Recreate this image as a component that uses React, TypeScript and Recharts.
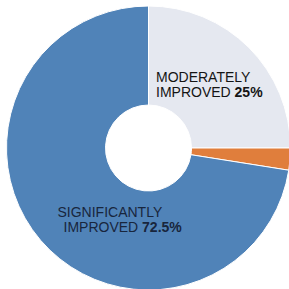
import { PieChart, Pie, Cell } from "recharts";

const categories = ["MODERATELY IMPROVED", "OTHER", "SIGNIFICANTLY IMPROVED"];
const shares = [25, 2.5, 72.5];
const sliceColors = ["#e5e8f0", "#e07e3c", "#5083b8"];
const labelLines = [["MODERATELY", "IMPROVED"], [], ["SIGNIFICANTLY", "IMPROVED"]];
const labelValues = ["25%", "", "72.5%"];

const data = categories.map((name, i) => ({ name, value: shares[i] }));

// offsets from the pie centre for each label (line 1 x, line 2 x, first baseline)
const labelSpots: Record<number, { x1: number; x2: number; y: number; fill: string }> = {
  0: { x1: 7.5, x2: 7.5, y: -66, fill: "#141414" },
  2: { x1: -91, x2: -85, y: 69, fill: "#18263d" },
};

function renderLabel(props: any) {
  const { cx, cy, index } = props;
  const spot = labelSpots[index];
  if (!spot) return null;
  const [l1, l2] = labelLines[index];
  return (
    <text
      fontFamily="'Liberation Sans', Arial, Helvetica, sans-serif"
      fontSize={14}
      fill={spot.fill}
    >
      <tspan x={cx + spot.x1} y={cy + spot.y}>
        {l1}
      </tspan>
      <tspan x={cx + spot.x2} y={cy + spot.y + 15}>
        {l2 + " "}
        <tspan fontWeight="bold">{labelValues[index]}</tspan>
      </tspan>
    </text>
  );
}

export default function App() {
  return (
    <div style={{ position: "absolute", left: 0, top: 0, width: 289, height: 289, background: "#fff" }}>
      <PieChart width={289} height={289} margin={{ top: 0, right: 0, bottom: 0, left: 0 }}>
        <Pie
          data={data}
          dataKey="value"
          nameKey="name"
          cx={148.5}
          cy={148}
          innerRadius={43}
          outerRadius={142}
          startAngle={90}
          endAngle={-270}
          stroke="#ffffff"
          strokeWidth={1}
          label={renderLabel}
          labelLine={false}
          isAnimationActive={false}
        >
          {data.map((d, i) => (
            <Cell key={d.name} fill={sliceColors[i]} />
          ))}
        </Pie>
      </PieChart>
    </div>
  );
}
